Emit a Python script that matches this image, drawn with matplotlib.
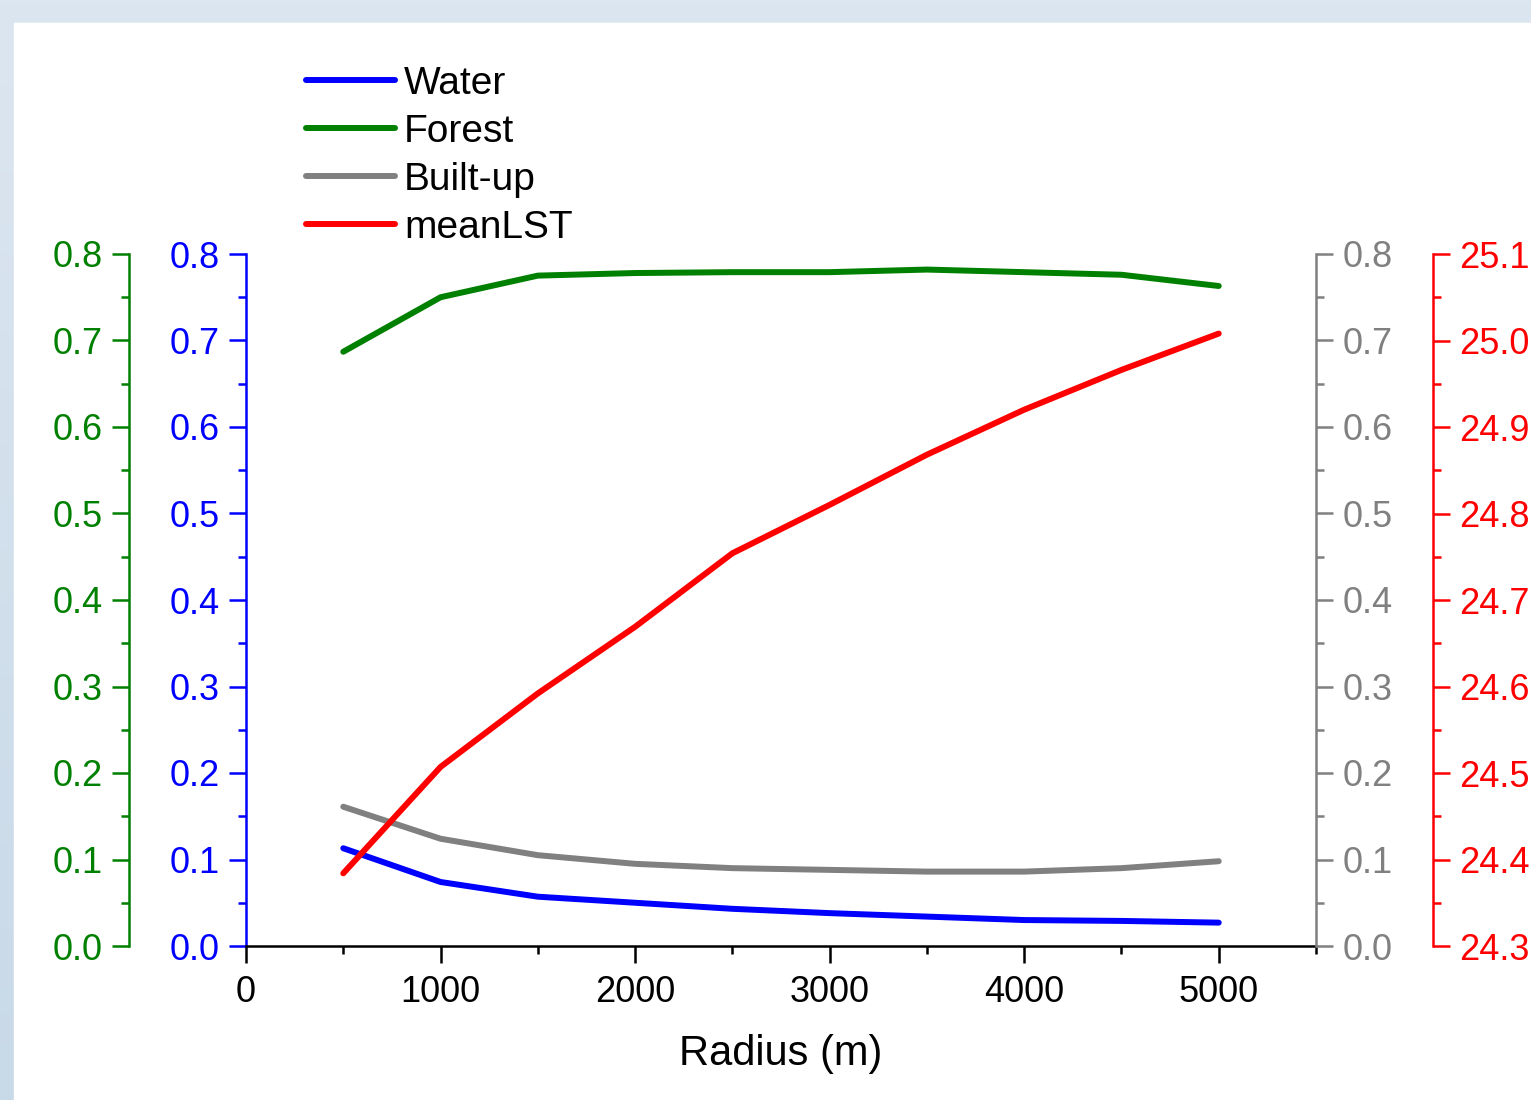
import numpy as np
import matplotlib
matplotlib.use("Agg")
import matplotlib.pyplot as plt
from matplotlib.ticker import MultipleLocator, FormatStrFormatter
from matplotlib.colors import LinearSegmentedColormap

plt.rcParams['font.family'] = ['Liberation Sans', 'DejaVu Sans']

radius = [500, 1000, 1500, 2000, 2500, 3000, 3500, 4000, 4500, 5000]
water = [0.113, 0.074, 0.057, 0.050, 0.043, 0.038, 0.034, 0.030, 0.029, 0.027]
forest = [0.687, 0.750, 0.775, 0.778, 0.779, 0.779, 0.782, 0.779, 0.776, 0.763]
builtup = [0.161, 0.124, 0.105, 0.095, 0.090, 0.088, 0.086, 0.086, 0.090, 0.098]
mean_lst = [24.384, 24.507, 24.592, 24.669, 24.754, 24.810, 24.868, 24.920, 24.966, 25.008]

labels = ['Water', 'Forest', 'Built-up', 'meanLST']
colors = ['#0000ff', '#008000', '#808080', '#ff0000']

W, H = 1531, 1100
fig = plt.figure(figsize=(W / 100, H / 100), dpi=100)

# background: light-blue frame with white panel
bg = fig.add_axes([0, 0, 1, 1], zorder=-10)
grad = np.linspace(0, 1, 256).reshape(-1, 1)
cmap = LinearSegmentedColormap.from_list('bg', ['#dce6f0', '#c8d9e8'])
bg.imshow(grad, aspect='auto', cmap=cmap, extent=[0, 1, 0, 1], origin='upper')
bg.add_patch(plt.Rectangle((14 / W, 0), 1, 1 - 23 / H, color='white', zorder=2))
bg.set_xlim(0, 1)
bg.set_ylim(0, 1)
bg.axis('off')

L, R = 246 / W, 1316 / W
B, T = 1 - 946 / H, 1 - 254 / H
ax = fig.add_axes([L, B, R - L, T - B])
ax.patch.set_alpha(0)

lw = 4.3
tick_fs = 26
major_len, minor_len = 12, 6
tick_w = 1.8
spine_w = 1.8
off = 117 / (1316 - 246)

# host axis: water (blue, left)
l1, = ax.plot(radius, water, color=colors[0], lw=lw, solid_capstyle='round', zorder=5)
ax.set_xlim(0, 5500)
ax.set_ylim(0, 0.8)
ax.xaxis.set_major_locator(MultipleLocator(1000))
ax.xaxis.set_minor_locator(MultipleLocator(500))
ax.yaxis.set_major_locator(MultipleLocator(0.1))
ax.yaxis.set_minor_locator(MultipleLocator(0.05))
ax.yaxis.set_major_formatter(FormatStrFormatter('%.1f'))
for s in ['top', 'right']:
    ax.spines[s].set_visible(False)
ax.spines['left'].set_color(colors[0])
ax.spines['bottom'].set_color('black')
for s in ['left', 'bottom']:
    ax.spines[s].set_linewidth(spine_w)
ax.tick_params(axis='y', which='both', colors=colors[0], labelsize=tick_fs, width=tick_w, direction='out', pad=7)
ax.tick_params(axis='y', which='major', length=major_len)
ax.tick_params(axis='y', which='minor', length=minor_len)
ax.tick_params(axis='x', which='both', colors='black', labelsize=tick_fs, width=tick_w, direction='out', pad=9)
ax.tick_params(axis='x', which='major', length=major_len)
ax.tick_params(axis='x', which='minor', length=minor_len)
ax.set_xlabel('Radius (m)', fontsize=30, labelpad=17)


def make_twin(color, side, position):
    t = ax.twinx()
    t.set_ylim(0, 0.8)
    for s in ['top', 'bottom', 'left', 'right']:
        t.spines[s].set_visible(False)
    t.spines[side].set_visible(True)
    t.spines[side].set_color(color)
    t.spines[side].set_linewidth(spine_w)
    if position is not None:
        t.spines[side].set_position(('axes', position))
    t.yaxis.set_ticks_position(side)
    t.yaxis.set_label_position(side)
    t.yaxis.set_major_locator(MultipleLocator(0.1))
    t.yaxis.set_minor_locator(MultipleLocator(0.05))
    t.yaxis.set_major_formatter(FormatStrFormatter('%.1f'))
    t.tick_params(axis='y', which='both', colors=color, labelsize=tick_fs, width=tick_w, direction='out', pad=7)
    t.tick_params(axis='y', which='major', length=major_len)
    t.tick_params(axis='y', which='minor', length=minor_len)
    return t

ax_forest = make_twin(colors[1], 'left', -off)
l2, = ax_forest.plot(radius, forest, color=colors[1], lw=lw, solid_capstyle='round', zorder=5)

ax_built = make_twin(colors[2], 'right', None)
l3, = ax_built.plot(radius, builtup, color=colors[2], lw=lw, solid_capstyle='round', zorder=5)

ax_lst = make_twin(colors[3], 'right', 1 + off)
ax_lst.set_ylim(24.3, 25.1)
l4, = ax_lst.plot(radius, mean_lst, color=colors[3], lw=lw, solid_capstyle='round', zorder=5)

leg = fig.legend([l1, l2, l3, l4], labels, loc='upper left',
                 bbox_to_anchor=(306 / W, 1 - 66 / H), frameon=False,
                 fontsize=28, handlelength=2.3, handletextpad=0.22,
                 labelspacing=0.305, borderaxespad=0, borderpad=0)
for h in leg.legend_handles:
    h.set_solid_capstyle('round')

fig.savefig('out.png', dpi=100)
